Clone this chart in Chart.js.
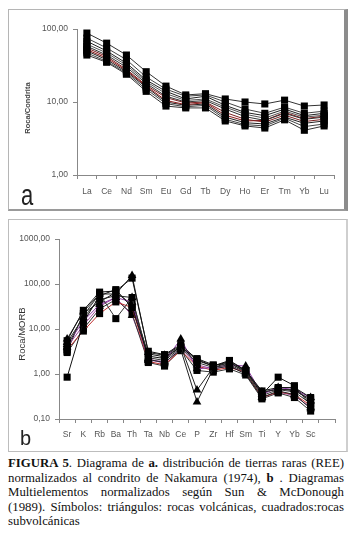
<!DOCTYPE html>
<html><head><meta charset="utf-8">
<script src="https://cdn.jsdelivr.net/npm/chart.js@4"></script>
<style>
html,body{margin:0;padding:0;background:#fff}
body{width:357px;height:544px;position:relative;overflow:hidden;font-family:"Liberation Sans",Arial,sans-serif}
.panel{position:absolute;box-sizing:border-box;background:#fff}
#pa{left:8px;top:9px;width:340px;height:202px;border-top:1px solid #b5b5b5;border-left:1px solid #b5b5b5;border-right:4px solid #8c8c8c;border-bottom:2px solid #9a9a9a}
#pb{left:8px;top:219px;width:340px;height:233px;border:1px solid #bdbdbd;border-right:2px solid #cfcfcf}
canvas{position:absolute}
#ca{left:9px;top:10px}
#cb{left:9px;top:220px}
.rt{position:absolute;transform:translate(-50%,-50%) rotate(-90deg);white-space:nowrap;color:#333}
.lab{position:absolute;color:#222;line-height:1;transform-origin:top left}
#cap{position:absolute;left:8px;top:456px;width:336px;font-family:"Liberation Serif","Times New Roman",serif;font-size:12.8px;line-height:14.5px;color:#111}
#cap div{text-align:justify;text-align-last:justify;white-space:nowrap}
#cap div.last{text-align-last:left}
</style>
</head><body>
<div class="panel" id="pa"></div>
<div class="panel" id="pb"></div>
<canvas id="ca" width="335" height="198"></canvas>
<canvas id="cb" width="337" height="231"></canvas>
<div class="rt" style="left:27px;top:108px;font-size:7.5px;font-weight:bold;color:#444">Roca/Condrita</div>
<div class="rt" style="left:21px;top:334px;font-size:9.5px;color:#333">Roca/MORB</div>
<div class="lab" style="left:21px;top:181px;font-size:22px;transform:scaleY(1.35)">a</div>
<div class="lab" style="left:20px;top:428px;font-size:20px">b</div>
<div id="cap">
<div><b>FIGURA 5</b>. Diagrama de <b>a.</b> distribución de tierras raras (REE)</div>
<div>normalizados al condrito de Nakamura (1974), <b>b</b> . Diagramas</div>
<div>Multielementos normalizados según Sun &amp; McDonough</div>
<div>(1989). Símbolos: triángulos: rocas volcánicas, cuadrados:rocas</div>
<div class="last">subvolcánicas</div>
</div>
<script>
// ---- Chart a: REE normalized to chondrite ----
const reeLabels = ["La","Ce","Nd","Sm","Eu","Gd","Tb","Dy","Ho","Er","Tm","Yb","Lu"];
const reeTicks = [1, 10, 100];
const ree1  = [88, 64, 44, 26, 16.5, 12.5, 13.0, 11.0, 10.0, 9.4, 10.6, 8.8, 9.1];
const ree2  = [75, 55, 38, 22, 15.0, 12.0, 12.5, 10.0, 8.0, 7.0, 8.5, 7.0, 7.5];
const ree3  = [68, 50, 34, 20, 14.0, 11.0, 12.0, 9.0, 7.2, 6.5, 8.0, 6.5, 7.0];
const ree4  = [62, 47, 32, 19, 13.0, 10.5, 11.0, 8.5, 6.8, 6.0, 7.5, 6.2, 6.6];
const ree5  = [58, 44, 30, 18, 12.0, 10.0, 10.5, 8.0, 6.3, 5.6, 7.0, 5.8, 6.2];
const ree6  = [55, 42, 28, 17, 11.5, 9.7, 10.0, 7.2, 5.8, 5.3, 6.6, 5.4, 5.8];
const ree7  = [52, 40, 27, 16.5, 10.5, 9.2, 9.8, 6.6, 5.5, 5.6, 7.2, 5.9, 6.4];
const ree8  = [50, 38, 26, 16, 10.0, 9.0, 9.4, 6.2, 5.2, 5.0, 6.2, 5.1, 5.5];
const ree9  = [47, 36, 25, 15, 9.5, 8.6, 9.0, 5.8, 4.9, 4.7, 6.0, 4.6, 5.0];
const ree10 = [44, 35, 24, 14, 8.8, 8.3, 8.3, 5.5, 4.7, 4.4, 5.7, 4.1, 4.7];

// ---- Chart b: multi-element normalized to MORB ----
const meLabels = ["Sr","K","Rb","Ba","Th","Ta","Nb","Ce","P","Zr","Hf","Sm","Ti","Y","Yb","Sc",""];
const meTicks = [0.1, 1, 10, 100, 1000];
const me1  = [5.5, 26, 66, 70, 135, 3.2, 2.7, 4.5, 2.1, 1.5, 2.0, 1.2, 0.42, 0.50, 0.50, 0.30];
const me2  = [6.0, 24, 60, 60, 155, 3.0, 2.6, 4.2, 0.44, 1.4, 1.8, 1.1, 0.40, 0.45, 0.45, 0.25];
const me3  = [0.85, 14, 55, 75, 30, 2.5, 2.2, 4.0, 2.0, 1.5, 1.9, 1.2, 0.35, 0.85, 0.55, 0.20];
const me4  = [4.0, 20, 60, 17, 50, 2.3, 2.0, 3.8, 1.8, 1.4, 1.6, 1.1, 0.33, 0.45, 0.40, 0.22];
const me5  = [5.0, 18, 45, 55, 50, 2.1, 1.8, 3.5, 0.24, 1.3, 1.5, 1.0, 0.30, 0.42, 0.35, 0.17];
const me6  = [4.5, 15, 35, 50, 40, 2.0, 1.9, 6.0, 1.3, 1.4, 1.6, 1.5, 0.35, 0.50, 0.45, 0.30];
const me7  = [3.5, 9, 22, 40, 30, 1.9, 1.6, 3.3, 1.5, 1.2, 1.4, 1.1, 0.30, 0.40, 0.35, 0.20];
const me8  = [3.0, 10, 28, 45, 22, 1.8, 1.5, 3.5, 1.2, 1.1, 1.3, 0.95, 0.28, 0.38, 0.30, 0.15];
const me9  = [4.0, 12, 32, 50, 20, 2.2, 1.7, 3.8, 1.6, 1.3, 1.5, 1.05, 0.30, 0.40, 0.33, 0.18];
const me10 = [3.2, 22, 40, 65, 35, 2.8, 2.4, 4.0, 2.2, 1.6, 1.7, 1.2, 0.38, 0.48, 0.42, 0.28];

const fmt = v => Number(v).toFixed(2).replace('.', ',');
const FAM = '"Liberation Sans", Arial, sans-serif';

function ds(data, color, style) {
  return {
    data: data, borderColor: color, borderWidth: 1,
    pointStyle: style, pointRadius: 5, pointHoverRadius: 5,
    pointBackgroundColor: '#000', pointBorderColor: '#000', pointBorderWidth: 0,
    tension: 0, fill: false
  };
}

const reeColors = ['#333','#444','#222','#555','#333','#7a2020','#8b1a1a','#222','#444','#333'];
const reeSets = [ree1,ree2,ree3,ree4,ree5,ree6,ree7,ree8,ree9,ree10].map((d,i)=>ds(d, reeColors[i], 'rect'));

const meStyles = ['rect','triangle','rect','rect','triangle','triangle','rect','rect','triangle','rect'];
const meColors = ['#111','#222','#111','#333','#222','#8a3aa0','#c03030','#333','#a04aa0','#111'];
const meSets = [me1,me2,me3,me4,me5,me6,me7,me8,me9,me10].map((d,i)=>ds(d, meColors[i], meStyles[i]));

function makeOpts(ticksArr, minV, maxV, yWidth, xHeight, pad, fontSize, labPad) {
  return {
    responsive: false, animation: false, devicePixelRatio: 1,
    layout: { padding: pad },
    plugins: { legend: { display: false }, tooltip: { enabled: false } },
    scales: {
      x: {
        type: 'category', offset: true,
        grid: { offset: true, drawOnChartArea: false, drawTicks: true, tickLength: 4, color: '#888', tickColor: '#888' },
        border: { color: '#888', width: 1 },
        ticks: { color: '#555', font: { family: FAM, size: fontSize }, padding: labPad, maxRotation: 0, autoSkip: false },
        afterFit: s => { s.height = xHeight; }
      },
      y: {
        type: 'logarithmic', min: minV, max: maxV,
        grid: { drawOnChartArea: false, drawTicks: true, tickLength: 4, color: '#888', tickColor: '#888' },
        border: { color: '#888', width: 1 },
        ticks: { color: '#555', font: { family: FAM, size: fontSize }, padding: 5, callback: v => fmt(v) },
        afterBuildTicks: s => { s.ticks = ticksArr.map(v => ({ value: v })); },
        afterFit: s => { s.width = yWidth; }
      }
    }
  };
}

new Chart(document.getElementById('ca'), {
  type: 'line',
  data: { labels: reeLabels, datasets: reeSets },
  options: makeOpts(reeTicks, 1, 100, 68, 33, { top: 19, right: 10, left: 0, bottom: 0 }, 8.5, 8)
});

new Chart(document.getElementById('cb'), {
  type: 'line',
  data: { labels: meLabels, datasets: meSets },
  options: makeOpts(meTicks, 0.1, 1000, 50, 32, { top: 19, right: 11, left: 0, bottom: 0 }, 8.5, 7)
});
</script>
</body></html>
